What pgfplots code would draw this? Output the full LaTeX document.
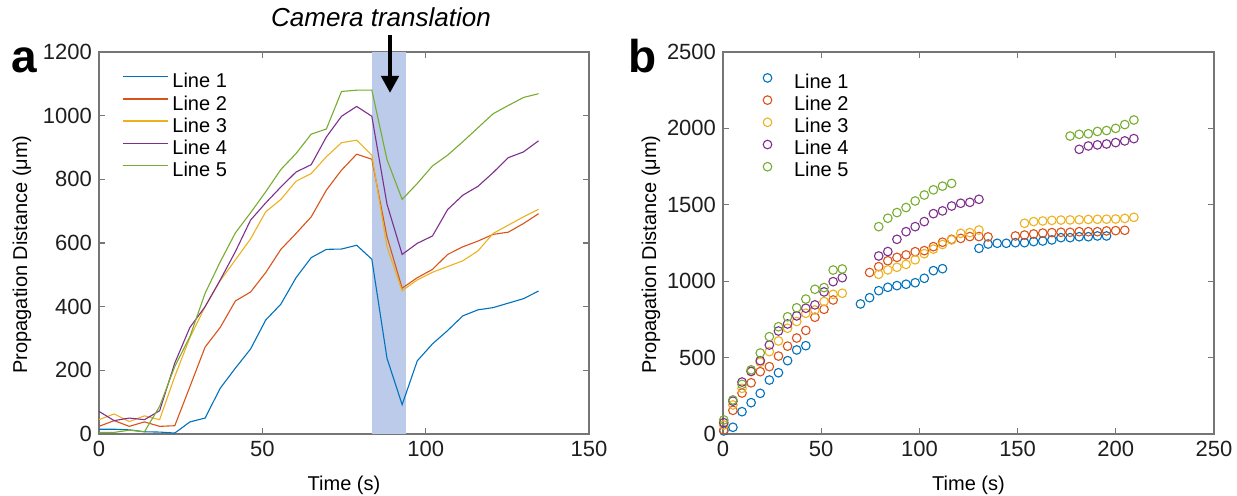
\documentclass[border=0pt]{standalone}
\usepackage{fontspec}
\setmainfont{Liberation Sans}
\usepackage{pgfplots}
\pgfplotsset{compat=1.18}
\usepackage{pgfplotstable}
\usetikzlibrary{arrows.meta}

\definecolor{c1}{rgb}{0,0.447,0.741}
\definecolor{c2}{rgb}{0.85,0.325,0.098}
\definecolor{c3}{rgb}{0.929,0.694,0.125}
\definecolor{c4}{rgb}{0.494,0.184,0.556}
\definecolor{c5}{rgb}{0.466,0.674,0.188}
\definecolor{shade}{RGB}{187,203,233}
\definecolor{axgray}{RGB}{118,118,118}
\definecolor{txt}{RGB}{30,30,30}

% Propagation distance per line, panel a (time in s, distance in um)
\pgfplotstableread{
t      L1   L2   L3   L4   L5
0.00   15   24   45   71   5
4.64   15   42   63   42   5
9.28   13   24   39   50   12
13.92  7    38   57   45   7
18.56  6    24   45   73   87
23.20  3    26   181  223  212
27.84  38   149  303  335  306
32.48  50   273  400  400  442
37.12  144  335  482  484  541
41.76  207  418  547  573  632
46.40  267  446  613  672  695
51.04  358  507  698  726  761
55.68  408  580  737  776  831
60.32  491  630  794  823  881
64.96  554  682  818  846  942
69.60  580  766  871  933  958
74.24  581  829  915  998  1076
78.88  593  879  923  1029 1080
83.52  549  863  876  998  1080
88.16  238  620  588  722  862
92.80  92   458  450  564  737
97.44  230  491  484  599  787
102.08 283  517  508  622  842
106.72 325  564  526  705  876
111.36 371  588  544  750  918
116.00 390  606  575  778  962
120.64 397  627  630  821  1006
125.28 411  634  656  868  1032
129.92 425  661  682  886  1057
134.56 449  692  706  921  1069
}\linesA

% Panel b, one table per line
\pgfplotstableread{
t d
0.40 20
5.04 44
9.68 146
14.32 205
18.96 266
23.60 353
28.24 401
32.88 480
37.52 550
42.16 578
70.00 851
74.64 892
79.28 938
83.92 960
88.56 971
93.20 980
97.84 990
102.48 1019
107.12 1069
111.76 1082
130.32 1215
134.96 1243
139.60 1248
144.24 1248
148.88 1252
153.52 1252
158.16 1259
162.80 1263
167.44 1270
172.08 1285
176.72 1285
181.36 1291
186.00 1291
190.64 1296
195.28 1296
}\bOne

\pgfplotstableread{
t d
0.40 26
5.04 155
9.68 268
14.32 335
18.96 408
23.60 441
28.24 510
32.88 575
37.52 628
42.16 678
46.80 764
51.44 816
56.08 877
74.64 1057
79.28 1095
83.92 1134
88.56 1156
93.20 1172
97.84 1193
102.48 1200
107.12 1226
111.76 1255
116.40 1274
121.04 1280
125.68 1292
130.32 1292
134.96 1290
148.88 1296
153.52 1302
158.16 1309
162.80 1315
167.44 1318
172.08 1320
176.72 1320
181.36 1324
186.00 1324
190.64 1324
195.28 1329
199.92 1331
204.56 1333
}\bTwo

\pgfplotstableread{
t d
0.40 59
5.04 190
9.68 299
14.32 408
18.96 470
23.60 539
28.24 609
32.88 692
37.52 736
42.16 790
46.80 812
51.44 867
56.08 914
60.72 921
79.28 1045
83.92 1074
88.56 1091
93.20 1110
97.84 1140
102.48 1180
107.12 1210
111.76 1240
116.40 1270
121.04 1313
125.68 1318
130.32 1335
153.52 1379
158.16 1390
162.80 1394
167.44 1398
172.08 1400
176.72 1401
181.36 1402
186.00 1404
190.64 1405
195.28 1406
199.92 1407
204.56 1411
209.20 1418
}\bThree

\pgfplotstableread{
t d
0.40 74
5.04 215
9.68 340
14.32 410
18.96 480
23.60 582
28.24 674
32.88 720
37.52 773
42.16 823
46.80 845
51.44 930
56.08 997
60.72 1023
79.28 1165
83.92 1194
88.56 1274
93.20 1324
97.84 1357
102.48 1390
107.12 1442
111.76 1460
116.40 1492
121.04 1510
125.68 1516
130.32 1536
181.36 1863
186.00 1885
190.64 1892
195.28 1898
199.92 1907
204.56 1918
209.20 1933
}\bFour

\pgfplotstableread{
t d
0.40 92
5.04 223
9.68 325
14.32 420
18.96 530
23.60 637
28.24 702
32.88 767
37.52 826
42.16 883
46.80 947
51.44 958
56.08 1073
60.72 1080
79.28 1357
83.92 1412
88.56 1449
93.20 1482
97.84 1525
102.48 1564
107.12 1598
111.76 1622
116.40 1640
176.72 1950
181.36 1961
186.00 1965
190.64 1980
195.28 1986
199.92 2000
204.56 2025
209.20 2055
}\bFive

\pgfplotsset{
  matstyle/.style={
    scale only axis,
    height=191pt,
    axis line style={axgray, line width=0.6pt},
    every tick/.style={axgray, line width=0.6pt},
    major tick length=3pt,
    tick align=inside,
    tick label style={font=\fontsize{11}{13}\selectfont, text=txt},
    label style={font=\fontsize{12.5}{15}\selectfont, text=txt},
    /pgf/number format/assume math mode=true,
    /pgf/number format/1000 sep={},
    every axis x label/.style={at={(axis description cs:0.5,-0.135)}, anchor=center},
    legend cell align=left,
    legend style={draw=none, fill=none, inner sep=0pt, outer sep=0pt,
      font=\fontsize{10}{12}\selectfont, row sep=0pt,
      nodes={inner sep=0pt, text height=7.6pt, text depth=3.5pt}},
  },
  aline/.style={color=#1, line width=0.55pt},
  bm/.style={only marks, mark=o, mark size=2.15pt, line width=0.55pt, color=#1,
    legend image code/.code={\draw[##1] plot coordinates {(0pt,3pt)};}},
}

\begin{document}
\begin{tikzpicture}
\path[use as bounding box] (0,0) rectangle (618.5pt,248pt);

% panel a
\begin{axis}[matstyle,
  at={(49.5pt,31pt)}, anchor=south west, width=245pt,
  xmin=0, xmax=150, ymin=0, ymax=1200,
  xtick={0,50,100,150}, ytick={0,200,...,1200},
  xlabel={Time (s)}, ylabel={Propagation Distance (μm)},
  every axis y label/.style={at={(axis description cs:-0.157,0.47)}, rotate=90, anchor=center},
  legend image code/.code={\draw[#1, line width=0.7pt] (0pt,3.5pt) -- (22.5pt,3.5pt);},
  legend style={at={(axis description cs:0.047,0.946)}, anchor=north west,
    /tikz/every odd column/.append style={column sep=2pt}},
]
\addplot[fill=shade, draw=none, forget plot] coordinates {(83.5,0) (83.5,1200) (94,1200) (94,0)} -- cycle;
\addplot[aline=c1] table[x=t, y=L1] {\linesA};
\addplot[aline=c2] table[x=t, y=L2] {\linesA};
\addplot[aline=c3] table[x=t, y=L3] {\linesA};
\addplot[aline=c4] table[x=t, y=L4] {\linesA};
\addplot[aline=c5] table[x=t, y=L5] {\linesA};
\legend{Line 1, Line 2, Line 3, Line 4, Line 5}
\end{axis}

% panel b
\begin{axis}[matstyle,
  at={(361.5pt,31pt)}, anchor=south west, width=245.5pt,
  xmin=0, xmax=250, ymin=0, ymax=2500,
  xtick={0,50,...,250}, ytick={0,500,...,2500},
  xlabel={Time (s)}, ylabel={Propagation Distance (μm)},
  every axis y label/.style={at={(axis description cs:-0.1466,0.47)}, rotate=90, anchor=center},
  legend style={at={(axis description cs:0.0819,0.9455)}, anchor=north west,
    /tikz/every odd column/.append style={column sep=11.1pt}},
]
\addplot[bm=c1] table[x=t, y=d] {\bOne};
\addplot[bm=c2] table[x=t, y=d] {\bTwo};
\addplot[bm=c3] table[x=t, y=d] {\bThree};
\addplot[bm=c4] table[x=t, y=d] {\bFour};
\addplot[bm=c5] table[x=t, y=d] {\bFive};
\legend{Line 1, Line 2, Line 3, Line 4, Line 5}
\end{axis}

% annotations
\draw[line width=2.4pt, -{Triangle[width=8.5pt, length=8.5pt]}] (195pt,230.5pt) -- (195pt,201.5pt);
\node[anchor=base, font=\fontsize{13}{15}\selectfont\itshape] at (190.5pt,234.5pt) {Camera translation};
\node[anchor=base, font=\fontsize{23}{26}\selectfont\bfseries] at (12pt,211.5pt) {a};
\node[anchor=base, font=\fontsize{23}{26}\selectfont\bfseries] at (321.5pt,211.5pt) {b};
\end{tikzpicture}
\end{document}
